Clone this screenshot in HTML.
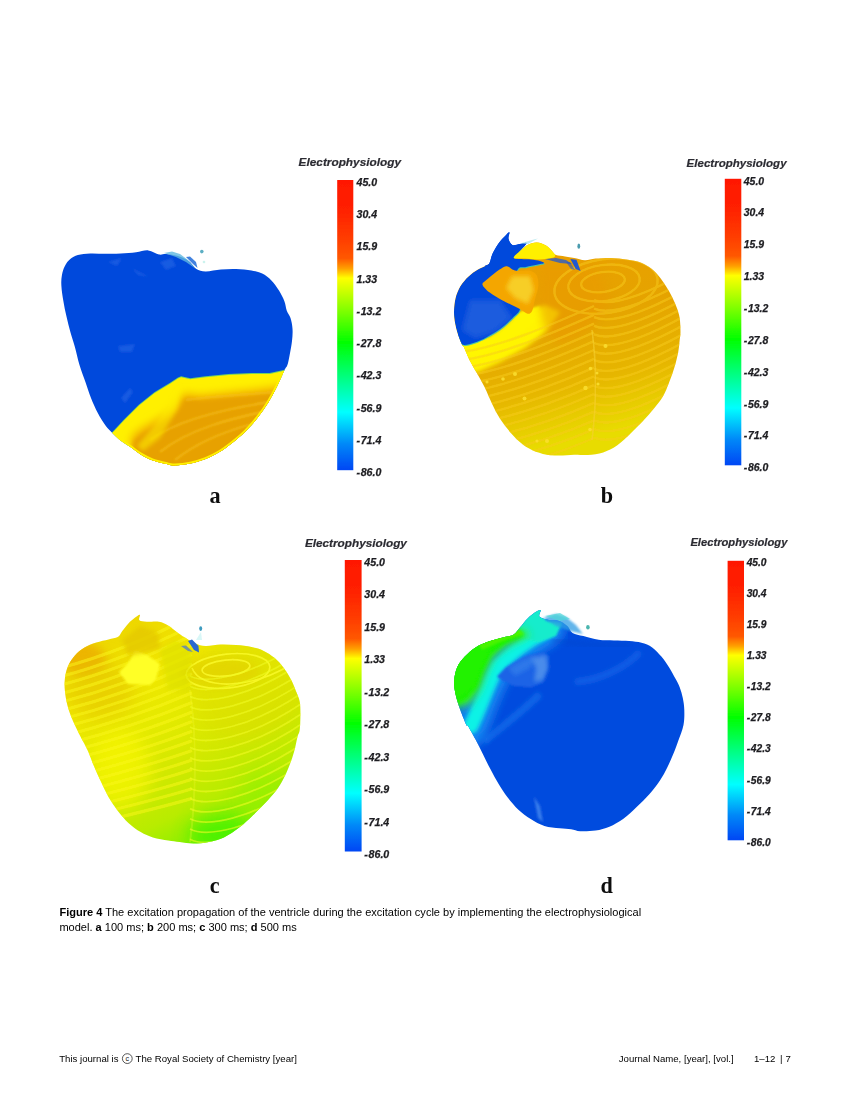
<!DOCTYPE html>
<html><head><meta charset="utf-8">
<style>
html,body{margin:0;padding:0;background:#fff;}
body{width:850px;height:1100px;position:relative;overflow:hidden;font-family:"Liberation Sans",sans-serif;color:#000;}
#fig{position:absolute;left:0;top:0;}
.cap{position:absolute;left:59.4px;top:905px;font-size:11.04px;line-height:15px;white-space:nowrap;opacity:0.999;}
.ft{position:absolute;top:1053px;font-size:9.62px;line-height:11px;white-space:nowrap;opacity:0.999;}
</style></head><body>
<svg id="fig" width="850" height="1100" viewBox="0 0 850 1100">
<defs>
<filter id="bl" x="-5%" y="-5%" width="110%" height="110%"><feGaussianBlur stdDeviation="0.7"/></filter>
<filter id="bt" x="-5%" y="-30%" width="110%" height="160%"><feGaussianBlur stdDeviation="0.55"/></filter>
<filter id="btt" x="-5%" y="-30%" width="110%" height="160%"><feGaussianBlur stdDeviation="0.65"/></filter>
<filter id="btl" x="-30%" y="-30%" width="160%" height="160%"><feGaussianBlur stdDeviation="0.75"/></filter>
<filter id="b1" x="-10%" y="-10%" width="120%" height="120%"><feGaussianBlur stdDeviation="1.2"/></filter>
<filter id="b2" x="-15%" y="-15%" width="130%" height="130%"><feGaussianBlur stdDeviation="2.2"/></filter>
<filter id="b4" x="-25%" y="-25%" width="150%" height="150%"><feGaussianBlur stdDeviation="4.5"/></filter>
<filter id="b8" x="-40%" y="-40%" width="180%" height="180%"><feGaussianBlur stdDeviation="9"/></filter>
<linearGradient id="cb" x1="0" y1="0" x2="0" y2="1">
<stop offset="0" stop-color="#ff1800"/>
<stop offset="0.10" stop-color="#ff2000"/>
<stop offset="0.20" stop-color="#ff3c00"/>
<stop offset="0.27" stop-color="#ff5800"/>
<stop offset="0.305" stop-color="#ffa000"/>
<stop offset="0.338" stop-color="#ffff00"/>
<stop offset="0.45" stop-color="#80ff00"/>
<stop offset="0.56" stop-color="#00ff00"/>
<stop offset="0.68" stop-color="#00ff80"/>
<stop offset="0.80" stop-color="#00ffff"/>
<stop offset="0.91" stop-color="#0088f8"/>
<stop offset="1" stop-color="#0046f4"/>
</linearGradient>
</defs>
<rect x="337.2" y="180.0" width="16.1" height="290.2" fill="url(#cb)" filter="url(#bl)"/>
<g font-family="Liberation Sans, sans-serif" font-weight="bold" font-style="italic" font-size="10.60" fill="#1c1c20" stroke="#1c1c20" stroke-width="0.25" filter="url(#bt)">
<text x="356.5" y="185.6">45.0</text>
<text x="356.5" y="217.9">30.4</text>
<text x="356.5" y="250.2">15.9</text>
<text x="356.5" y="282.5">1.33</text>
<text x="356.5" y="314.8">-<tspan dx="0.7">13.2</tspan></text>
<text x="356.5" y="347.1">-<tspan dx="0.7">27.8</tspan></text>
<text x="356.5" y="379.4">-<tspan dx="0.7">42.3</tspan></text>
<text x="356.5" y="411.7">-<tspan dx="0.7">56.9</tspan></text>
<text x="356.5" y="444.0">-<tspan dx="0.7">71.4</tspan></text>
<text x="356.5" y="476.3">-<tspan dx="0.7">86.0</tspan></text>
</g>
<text x="298.6" y="166.2" font-family="Liberation Sans, sans-serif" font-weight="bold" font-style="italic" font-size="11.82" fill="#2c2c32" stroke="#2c2c32" stroke-width="0.2" filter="url(#btt)">Electrophysiology</text>
<rect x="724.8" y="178.8" width="16.5" height="286.5" fill="url(#cb)" filter="url(#bl)"/>
<g font-family="Liberation Sans, sans-serif" font-weight="bold" font-style="italic" font-size="10.46" fill="#1c1c20" stroke="#1c1c20" stroke-width="0.25" filter="url(#bt)">
<text x="743.8" y="184.5">45.0</text>
<text x="743.8" y="216.3">30.4</text>
<text x="743.8" y="248.2">15.9</text>
<text x="743.8" y="280.1">1.33</text>
<text x="743.8" y="312.0">-<tspan dx="0.7">13.2</tspan></text>
<text x="743.8" y="343.8">-<tspan dx="0.7">27.8</tspan></text>
<text x="743.8" y="375.7">-<tspan dx="0.7">42.3</tspan></text>
<text x="743.8" y="407.6">-<tspan dx="0.7">56.9</tspan></text>
<text x="743.8" y="439.4">-<tspan dx="0.7">71.4</tspan></text>
<text x="743.8" y="471.3">-<tspan dx="0.7">86.0</tspan></text>
</g>
<text x="686.6" y="167.0" font-family="Liberation Sans, sans-serif" font-weight="bold" font-style="italic" font-size="11.54" fill="#2c2c32" stroke="#2c2c32" stroke-width="0.2" filter="url(#btt)">Electrophysiology</text>
<rect x="344.8" y="560.0" width="16.8" height="291.5" fill="url(#cb)" filter="url(#bl)"/>
<g font-family="Liberation Sans, sans-serif" font-weight="bold" font-style="italic" font-size="10.65" fill="#1c1c20" stroke="#1c1c20" stroke-width="0.25" filter="url(#bt)">
<text x="364.3" y="565.6">45.0</text>
<text x="364.3" y="598.1">30.4</text>
<text x="364.3" y="630.6">15.9</text>
<text x="364.3" y="663.1">1.33</text>
<text x="364.3" y="695.6">-<tspan dx="0.7">13.2</tspan></text>
<text x="364.3" y="728.1">-<tspan dx="0.7">27.8</tspan></text>
<text x="364.3" y="760.6">-<tspan dx="0.7">42.3</tspan></text>
<text x="364.3" y="793.2">-<tspan dx="0.7">56.9</tspan></text>
<text x="364.3" y="825.7">-<tspan dx="0.7">71.4</tspan></text>
<text x="364.3" y="858.2">-<tspan dx="0.7">86.0</tspan></text>
</g>
<text x="304.9" y="547.0" font-family="Liberation Sans, sans-serif" font-weight="bold" font-style="italic" font-size="11.77" fill="#2c2c32" stroke="#2c2c32" stroke-width="0.2" filter="url(#btt)">Electrophysiology</text>
<rect x="727.6" y="560.8" width="16.4" height="279.5" fill="url(#cb)" filter="url(#bl)"/>
<g font-family="Liberation Sans, sans-serif" font-weight="bold" font-style="italic" font-size="10.21" fill="#1c1c20" stroke="#1c1c20" stroke-width="0.25" filter="url(#bt)">
<text x="746.7" y="565.9">45.0</text>
<text x="746.7" y="597.0">30.4</text>
<text x="746.7" y="628.1">15.9</text>
<text x="746.7" y="659.2">1.33</text>
<text x="746.7" y="690.3">-<tspan dx="0.7">13.2</tspan></text>
<text x="746.7" y="721.3">-<tspan dx="0.7">27.8</tspan></text>
<text x="746.7" y="752.4">-<tspan dx="0.7">42.3</tspan></text>
<text x="746.7" y="783.5">-<tspan dx="0.7">56.9</tspan></text>
<text x="746.7" y="814.6">-<tspan dx="0.7">71.4</tspan></text>
<text x="746.7" y="845.7">-<tspan dx="0.7">86.0</tspan></text>
</g>
<text x="690.4" y="546.2" font-family="Liberation Sans, sans-serif" font-weight="bold" font-style="italic" font-size="11.20" fill="#2c2c32" stroke="#2c2c32" stroke-width="0.2" filter="url(#btt)">Electrophysiology</text>
<g font-family="Liberation Serif, serif" font-weight="bold" font-size="22.2" fill="#111" filter="url(#btl)" text-anchor="middle">
<text x="215" y="503.4">a</text>
<text x="606.8" y="503.4">b</text>
<text x="214.6" y="892.8">c</text>
<text x="606.6" y="892.8">d</text>
</g>
<!-- HEART A -->
<clipPath id="ca"><path d="M79.5,365.0 C77.7,359.1 76.4,352.5 74.9,347.0 C73.4,341.5 71.7,336.9 70.3,331.8 C68.9,326.7 67.7,321.6 66.5,316.5 C65.3,311.4 64.2,306.3 63.4,301.2 C62.5,296.1 61.6,290.2 61.4,285.9 C61.1,281.6 61.3,278.5 61.9,275.2 C62.5,271.9 63.5,268.7 64.9,266.0 C66.3,263.3 68.1,260.9 70.3,259.1 C72.5,257.3 74.6,255.9 77.9,255.0 C81.2,254.1 85.6,253.7 90.2,253.5 C94.8,253.3 100.4,253.8 105.5,253.8 C110.6,253.8 115.7,253.9 120.8,253.6 C125.9,253.3 131.5,252.7 136.1,252.2 C140.7,251.7 144.5,250.0 148.3,250.4 C152.1,250.8 156.1,253.9 159.0,254.5 C161.9,255.1 163.2,253.8 166.0,254.0 C168.8,254.2 172.8,254.9 175.8,255.6 C178.8,256.3 181.8,257.3 184.2,258.4 C186.6,259.5 188.0,260.2 190.0,262.0 C192.0,263.8 193.8,267.4 196.4,269.0 C199.0,270.6 201.5,271.3 205.6,271.4 C209.7,271.5 215.8,269.9 220.9,269.5 C226.0,269.1 231.1,268.8 236.2,269.0 C241.3,269.2 247.2,269.8 251.5,270.6 C255.8,271.4 258.9,272.0 262.2,273.6 C265.5,275.2 268.6,277.7 271.4,280.5 C274.2,283.3 276.8,287.1 279.0,290.5 C281.2,293.9 283.1,297.9 284.4,301.2 C285.7,304.5 285.7,307.6 286.7,310.4 C287.7,313.2 289.5,314.9 290.5,318.0 C291.5,321.1 292.2,324.9 292.5,328.7 C292.8,332.5 292.5,336.7 292.0,341.0 C291.5,345.3 290.5,350.7 289.7,354.7 C288.9,358.7 288.3,362.4 287.4,365.0 C286.5,367.6 286.0,366.9 284.4,370.3 C282.8,373.7 280.2,380.2 277.5,385.6 C274.8,391.0 271.6,397.0 268.3,402.4 C265.0,407.8 261.4,412.8 257.6,417.7 C253.8,422.6 249.5,427.4 245.4,431.5 C241.3,435.6 237.4,438.8 233.1,442.2 C228.8,445.6 224.0,449.3 219.4,452.1 C214.8,454.9 210.4,457.1 205.6,459.0 C200.8,460.9 195.4,462.5 190.3,463.6 C185.2,464.7 178.7,465.3 175.0,465.4 C171.3,465.5 171.9,465.2 168.2,464.4 C164.5,463.6 157.5,462.2 152.9,460.5 C148.3,458.8 144.5,456.7 140.7,454.4 C136.9,452.1 133.3,449.1 130.0,446.8 C126.7,444.5 123.7,443.0 120.8,440.7 C117.9,438.4 115.0,435.6 112.4,433.0 C109.9,430.4 107.9,428.7 105.5,425.4 C103.1,422.1 100.2,417.7 97.8,413.1 C95.4,408.5 92.9,402.9 90.9,397.8 C88.9,392.7 87.5,388.0 85.6,382.5 C83.7,377.0 81.3,370.9 79.5,365.0Z"/></clipPath>
<clipPath id="cay"><path d="M108.0,437.0 L112.4,433.0 L123.8,420.8 L139.1,405.5 L154.4,393.2 L169.7,384.0 L178.0,378.6 L181.1,377.2 L190.3,379.3 L205.6,377.2 L228.5,374.9 L251.5,374.1 L269.8,374.1 L283.6,371.0 L300.0,366.0 L300.0,480.0 L100.0,480.0Z"/></clipPath>
<g filter="url(#bl)">
<path d="M79.5,365.0 C77.7,359.1 76.4,352.5 74.9,347.0 C73.4,341.5 71.7,336.9 70.3,331.8 C68.9,326.7 67.7,321.6 66.5,316.5 C65.3,311.4 64.2,306.3 63.4,301.2 C62.5,296.1 61.6,290.2 61.4,285.9 C61.1,281.6 61.3,278.5 61.9,275.2 C62.5,271.9 63.5,268.7 64.9,266.0 C66.3,263.3 68.1,260.9 70.3,259.1 C72.5,257.3 74.6,255.9 77.9,255.0 C81.2,254.1 85.6,253.7 90.2,253.5 C94.8,253.3 100.4,253.8 105.5,253.8 C110.6,253.8 115.7,253.9 120.8,253.6 C125.9,253.3 131.5,252.7 136.1,252.2 C140.7,251.7 144.5,250.0 148.3,250.4 C152.1,250.8 156.1,253.9 159.0,254.5 C161.9,255.1 163.2,253.8 166.0,254.0 C168.8,254.2 172.8,254.9 175.8,255.6 C178.8,256.3 181.8,257.3 184.2,258.4 C186.6,259.5 188.0,260.2 190.0,262.0 C192.0,263.8 193.8,267.4 196.4,269.0 C199.0,270.6 201.5,271.3 205.6,271.4 C209.7,271.5 215.8,269.9 220.9,269.5 C226.0,269.1 231.1,268.8 236.2,269.0 C241.3,269.2 247.2,269.8 251.5,270.6 C255.8,271.4 258.9,272.0 262.2,273.6 C265.5,275.2 268.6,277.7 271.4,280.5 C274.2,283.3 276.8,287.1 279.0,290.5 C281.2,293.9 283.1,297.9 284.4,301.2 C285.7,304.5 285.7,307.6 286.7,310.4 C287.7,313.2 289.5,314.9 290.5,318.0 C291.5,321.1 292.2,324.9 292.5,328.7 C292.8,332.5 292.5,336.7 292.0,341.0 C291.5,345.3 290.5,350.7 289.7,354.7 C288.9,358.7 288.3,362.4 287.4,365.0 C286.5,367.6 286.0,366.9 284.4,370.3 C282.8,373.7 280.2,380.2 277.5,385.6 C274.8,391.0 271.6,397.0 268.3,402.4 C265.0,407.8 261.4,412.8 257.6,417.7 C253.8,422.6 249.5,427.4 245.4,431.5 C241.3,435.6 237.4,438.8 233.1,442.2 C228.8,445.6 224.0,449.3 219.4,452.1 C214.8,454.9 210.4,457.1 205.6,459.0 C200.8,460.9 195.4,462.5 190.3,463.6 C185.2,464.7 178.7,465.3 175.0,465.4 C171.3,465.5 171.9,465.2 168.2,464.4 C164.5,463.6 157.5,462.2 152.9,460.5 C148.3,458.8 144.5,456.7 140.7,454.4 C136.9,452.1 133.3,449.1 130.0,446.8 C126.7,444.5 123.7,443.0 120.8,440.7 C117.9,438.4 115.0,435.6 112.4,433.0 C109.9,430.4 107.9,428.7 105.5,425.4 C103.1,422.1 100.2,417.7 97.8,413.1 C95.4,408.5 92.9,402.9 90.9,397.8 C88.9,392.7 87.5,388.0 85.6,382.5 C83.7,377.0 81.3,370.9 79.5,365.0Z" fill="#0349dc"/>
<g clip-path="url(#ca)">
 <path d="M108.0,437.0 L112.4,433.0 L123.8,420.8 L139.1,405.5 L154.4,393.2 L169.7,384.0 L178.0,378.6 L181.1,377.2 L190.3,379.3 L205.6,377.2 L228.5,374.9 L251.5,374.1 L269.8,374.1 L283.6,371.0 L300.0,366.0 L300.0,480.0 L100.0,480.0Z" fill="#6fd060" filter="url(#bl)" transform="translate(0,-1)"/>
 <path d="M108.0,437.0 L112.4,433.0 L123.8,420.8 L139.1,405.5 L154.4,393.2 L169.7,384.0 L178.0,378.6 L181.1,377.2 L190.3,379.3 L205.6,377.2 L228.5,374.9 L251.5,374.1 L269.8,374.1 L283.6,371.0 L300.0,366.0 L300.0,480.0 L100.0,480.0Z" fill="#fff000" filter="url(#bl)"/>
 <path d="M131.0,447.0 L131.5,436.0 L140.7,428.4 L154.4,420.8 L168.2,413.0 L177.4,404.0 L181.0,397.0 L184.0,393.0 L200.0,395.0 L220.0,393.0 L245.0,390.5 L268.0,388.0 L285.0,385.0 L290.0,480.0 L140.0,480.0Z" fill="#f2b000" filter="url(#b4)"/>
 <path d="M131.0,447.0 L131.5,436.0 L140.7,428.4 L154.4,420.8 L168.2,413.0 L177.4,404.0 L181.0,397.0 L184.0,393.0 L200.0,395.0 L220.0,393.0 L245.0,390.5 L268.0,388.0 L285.0,385.0 L290.0,480.0 L140.0,480.0Z" fill="#e7a100" filter="url(#b2)" transform="translate(2,5)"/>
 <g fill="none" stroke="#f8c418" stroke-width="1.8" filter="url(#b1)" opacity="0.75">
  <path d="M150,440 C180,418 230,408 270,402"/>
  <path d="M160,452 C190,428 235,418 262,412"/>
  <path d="M175,460 C200,440 230,430 252,424"/>
  <path d="M186,400 C215,396 250,394 280,392"/>
 </g>
 <path d="M181,381 L172,400 L152,428 L137,446 L143,451 L160,438 L177,410 Z" fill="#fff400" opacity="0.5" filter="url(#b2)"/>
 <g clip-path="url(#cay)"><path d="M79.5,365.0 C77.7,359.1 76.4,352.5 74.9,347.0 C73.4,341.5 71.7,336.9 70.3,331.8 C68.9,326.7 67.7,321.6 66.5,316.5 C65.3,311.4 64.2,306.3 63.4,301.2 C62.5,296.1 61.6,290.2 61.4,285.9 C61.1,281.6 61.3,278.5 61.9,275.2 C62.5,271.9 63.5,268.7 64.9,266.0 C66.3,263.3 68.1,260.9 70.3,259.1 C72.5,257.3 74.6,255.9 77.9,255.0 C81.2,254.1 85.6,253.7 90.2,253.5 C94.8,253.3 100.4,253.8 105.5,253.8 C110.6,253.8 115.7,253.9 120.8,253.6 C125.9,253.3 131.5,252.7 136.1,252.2 C140.7,251.7 144.5,250.0 148.3,250.4 C152.1,250.8 156.1,253.9 159.0,254.5 C161.9,255.1 163.2,253.8 166.0,254.0 C168.8,254.2 172.8,254.9 175.8,255.6 C178.8,256.3 181.8,257.3 184.2,258.4 C186.6,259.5 188.0,260.2 190.0,262.0 C192.0,263.8 193.8,267.4 196.4,269.0 C199.0,270.6 201.5,271.3 205.6,271.4 C209.7,271.5 215.8,269.9 220.9,269.5 C226.0,269.1 231.1,268.8 236.2,269.0 C241.3,269.2 247.2,269.8 251.5,270.6 C255.8,271.4 258.9,272.0 262.2,273.6 C265.5,275.2 268.6,277.7 271.4,280.5 C274.2,283.3 276.8,287.1 279.0,290.5 C281.2,293.9 283.1,297.9 284.4,301.2 C285.7,304.5 285.7,307.6 286.7,310.4 C287.7,313.2 289.5,314.9 290.5,318.0 C291.5,321.1 292.2,324.9 292.5,328.7 C292.8,332.5 292.5,336.7 292.0,341.0 C291.5,345.3 290.5,350.7 289.7,354.7 C288.9,358.7 288.3,362.4 287.4,365.0 C286.5,367.6 286.0,366.9 284.4,370.3 C282.8,373.7 280.2,380.2 277.5,385.6 C274.8,391.0 271.6,397.0 268.3,402.4 C265.0,407.8 261.4,412.8 257.6,417.7 C253.8,422.6 249.5,427.4 245.4,431.5 C241.3,435.6 237.4,438.8 233.1,442.2 C228.8,445.6 224.0,449.3 219.4,452.1 C214.8,454.9 210.4,457.1 205.6,459.0 C200.8,460.9 195.4,462.5 190.3,463.6 C185.2,464.7 178.7,465.3 175.0,465.4 C171.3,465.5 171.9,465.2 168.2,464.4 C164.5,463.6 157.5,462.2 152.9,460.5 C148.3,458.8 144.5,456.7 140.7,454.4 C136.9,452.1 133.3,449.1 130.0,446.8 C126.7,444.5 123.7,443.0 120.8,440.7 C117.9,438.4 115.0,435.6 112.4,433.0 C109.9,430.4 107.9,428.7 105.5,425.4 C103.1,422.1 100.2,417.7 97.8,413.1 C95.4,408.5 92.9,402.9 90.9,397.8 C88.9,392.7 87.5,388.0 85.6,382.5 C83.7,377.0 81.3,370.9 79.5,365.0Z" fill="none" stroke="#fff200" stroke-width="3.6" filter="url(#bl)"/></g>
 <!-- subtle lighter patches in blue -->
 <g fill="#2a6ae6" opacity="0.55" filter="url(#b1)">
  <path d="M108,262 L122,258 L117,266 Z"/><path d="M132,268 L141,273 L150,277 L138,275 Z"/>
  <path d="M160,262 L172,258 L176,266 L166,270 Z"/>
  <path d="M118,346 L135,344 L132,352 L120,352 Z"/>
  <path d="M121,398 L130,388 L133,392 L125,403 Z"/>
 </g>
</g>
<!-- dust -->
<g filter="url(#bl)">
 <path d="M164,253 L172,251.5 L180,254 L188,260 L196,269 L186,262 L176,257 Z" fill="#5fb8e0" opacity="0.8"/>
 <path d="M186,257 L190,256.5 L196,262 L197.5,268 L193,264 Z" fill="#2f74dc" opacity="0.9"/>
 <circle cx="201.8" cy="251.6" r="1.8" fill="#3fa0b8" opacity="0.85"/>
 <circle cx="204" cy="262" r="1.3" fill="#bff0ea" opacity="0.8"/>
</g>
</g>
<!-- HEART B -->
<clipPath id="cbb"><path d="M461.8,344.3 C460.6,341.7 458.5,336.7 457.2,332.1 C455.9,327.5 454.6,321.9 454.2,316.8 C453.8,311.7 454.1,306.1 454.9,301.5 C455.7,296.9 456.9,293.0 458.8,289.2 C460.7,285.4 463.6,281.6 466.4,278.5 C469.2,275.4 472.5,272.9 475.6,270.9 C478.7,268.9 482.1,267.7 484.8,266.3 C487.5,264.9 489.5,263.9 492.0,262.5 C494.5,261.1 496.4,259.1 500.0,258.0 C503.6,256.9 510.5,257.2 513.8,256.0 C517.1,254.8 517.7,252.8 520.0,251.0 C522.3,249.2 524.8,246.3 527.6,244.9 C530.4,243.5 533.7,242.5 536.8,242.6 C539.9,242.7 543.5,244.2 546.0,245.6 C548.5,247.0 550.3,249.4 552.0,251.0 C553.7,252.6 553.8,254.1 556.0,255.0 C558.2,255.9 562.0,255.9 565.0,256.4 C568.0,256.9 570.9,257.3 574.2,257.9 C577.5,258.5 581.3,260.1 584.9,260.2 C588.5,260.3 591.3,259.0 595.6,258.6 C599.9,258.2 605.8,257.8 610.9,257.9 C616.0,258.0 621.6,258.8 626.2,259.4 C630.8,260.0 634.6,260.4 638.4,261.7 C642.2,263.0 645.8,264.8 649.1,267.1 C652.4,269.4 655.5,272.3 658.3,275.5 C661.1,278.7 663.7,282.6 666.0,286.2 C668.3,289.8 670.3,293.3 672.1,296.9 C673.9,300.5 675.4,304.0 676.7,307.6 C678.0,311.2 679.1,314.2 679.7,318.3 C680.3,322.4 680.5,328.5 680.5,332.1 C680.5,335.7 680.1,336.6 679.7,340.0 C679.3,343.4 679.1,347.6 678.2,352.2 C677.3,356.8 675.9,362.4 674.4,367.5 C672.9,372.6 670.9,377.9 669.0,382.8 C667.1,387.7 665.4,392.3 662.9,396.6 C660.4,400.9 657.0,404.7 653.7,408.8 C650.4,412.9 646.8,417.0 643.0,421.1 C639.2,425.2 635.1,429.2 630.8,433.3 C626.5,437.4 621.6,442.3 617.0,445.5 C612.4,448.7 608.1,450.8 603.2,452.4 C598.4,454.0 592.7,454.6 587.9,455.0 C583.1,455.4 579.2,454.6 574.2,454.7 C569.2,454.8 563.4,455.6 558.2,455.5 C553.0,455.4 547.8,455.0 542.9,453.9 C538.0,452.8 533.4,451.0 529.1,448.6 C524.8,446.2 520.7,443.0 516.9,439.4 C513.1,435.8 509.4,431.3 506.2,427.2 C503.0,423.1 500.4,419.2 497.8,414.9 C495.2,410.6 493.1,405.8 490.9,401.2 C488.7,396.6 487.1,392.0 484.8,387.4 C482.5,382.8 479.7,378.2 477.1,373.6 C474.6,369.0 471.7,364.2 469.5,359.9 C467.3,355.6 465.4,350.2 464.1,347.6 C462.8,345.0 463.0,346.9 461.8,344.3Z"/></clipPath>
<linearGradient id="gb" x1="0" y1="0" x2="0.25" y2="1">
<stop offset="0" stop-color="#ec9f00"/><stop offset="0.45" stop-color="#e5a300"/><stop offset="0.75" stop-color="#e6b600"/><stop offset="1" stop-color="#e8dc00"/>
</linearGradient>
<g filter="url(#bl)">
<path d="M484.8,266.3 C484.7,265.5 488.1,265.2 489.4,263.2 C490.7,261.2 490.9,257.4 492.4,254.1 C493.9,250.8 496.3,246.5 498.5,243.4 C500.7,240.3 503.6,237.5 505.4,235.7 C507.2,233.9 508.9,231.9 509.4,232.4 C509.9,232.9 508.0,236.7 508.5,238.8 C509.0,240.9 510.4,244.0 512.3,244.9 C514.2,245.8 517.5,244.4 519.9,244.1 C522.3,243.8 526.5,242.0 526.5,243.2 C526.5,244.3 522.0,248.6 519.9,251.0 C517.8,253.4 517.1,256.1 513.8,257.9 C510.5,259.7 504.0,260.3 500.0,262.0 C496.0,263.7 492.5,267.3 490.0,268.0 C487.5,268.7 484.9,267.1 484.8,266.3Z" fill="#0349dc"/>
<path d="M461.8,344.3 C460.6,341.7 458.5,336.7 457.2,332.1 C455.9,327.5 454.6,321.9 454.2,316.8 C453.8,311.7 454.1,306.1 454.9,301.5 C455.7,296.9 456.9,293.0 458.8,289.2 C460.7,285.4 463.6,281.6 466.4,278.5 C469.2,275.4 472.5,272.9 475.6,270.9 C478.7,268.9 482.1,267.7 484.8,266.3 C487.5,264.9 489.5,263.9 492.0,262.5 C494.5,261.1 496.4,259.1 500.0,258.0 C503.6,256.9 510.5,257.2 513.8,256.0 C517.1,254.8 517.7,252.8 520.0,251.0 C522.3,249.2 524.8,246.3 527.6,244.9 C530.4,243.5 533.7,242.5 536.8,242.6 C539.9,242.7 543.5,244.2 546.0,245.6 C548.5,247.0 550.3,249.4 552.0,251.0 C553.7,252.6 553.8,254.1 556.0,255.0 C558.2,255.9 562.0,255.9 565.0,256.4 C568.0,256.9 570.9,257.3 574.2,257.9 C577.5,258.5 581.3,260.1 584.9,260.2 C588.5,260.3 591.3,259.0 595.6,258.6 C599.9,258.2 605.8,257.8 610.9,257.9 C616.0,258.0 621.6,258.8 626.2,259.4 C630.8,260.0 634.6,260.4 638.4,261.7 C642.2,263.0 645.8,264.8 649.1,267.1 C652.4,269.4 655.5,272.3 658.3,275.5 C661.1,278.7 663.7,282.6 666.0,286.2 C668.3,289.8 670.3,293.3 672.1,296.9 C673.9,300.5 675.4,304.0 676.7,307.6 C678.0,311.2 679.1,314.2 679.7,318.3 C680.3,322.4 680.5,328.5 680.5,332.1 C680.5,335.7 680.1,336.6 679.7,340.0 C679.3,343.4 679.1,347.6 678.2,352.2 C677.3,356.8 675.9,362.4 674.4,367.5 C672.9,372.6 670.9,377.9 669.0,382.8 C667.1,387.7 665.4,392.3 662.9,396.6 C660.4,400.9 657.0,404.7 653.7,408.8 C650.4,412.9 646.8,417.0 643.0,421.1 C639.2,425.2 635.1,429.2 630.8,433.3 C626.5,437.4 621.6,442.3 617.0,445.5 C612.4,448.7 608.1,450.8 603.2,452.4 C598.4,454.0 592.7,454.6 587.9,455.0 C583.1,455.4 579.2,454.6 574.2,454.7 C569.2,454.8 563.4,455.6 558.2,455.5 C553.0,455.4 547.8,455.0 542.9,453.9 C538.0,452.8 533.4,451.0 529.1,448.6 C524.8,446.2 520.7,443.0 516.9,439.4 C513.1,435.8 509.4,431.3 506.2,427.2 C503.0,423.1 500.4,419.2 497.8,414.9 C495.2,410.6 493.1,405.8 490.9,401.2 C488.7,396.6 487.1,392.0 484.8,387.4 C482.5,382.8 479.7,378.2 477.1,373.6 C474.6,369.0 471.7,364.2 469.5,359.9 C467.3,355.6 465.4,350.2 464.1,347.6 C462.8,345.0 463.0,346.9 461.8,344.3Z" fill="url(#gb)"/>
<g clip-path="url(#cbb)">
 <!-- yellow band under blue -->
 <path d="M455,345 L470,344 L490,338 L505,328 L520,314 L545,305 L560,312 L548,330 L525,348 L500,362 L478,372 L462,372 Z" fill="#fff400" filter="url(#b2)"/>
 <path d="M456,338 L470,343 L490,337 L505,326 L520,312 L540,306 L540,318 L520,334 L500,346 L478,356 L460,356 Z" fill="#fff600" filter="url(#b1)"/>
 <!-- darker orange near top center -->
 <path d="M540,262 L575,262 L600,272 L610,300 L590,330 L560,345 L545,330 L538,300 Z" fill="#ea9a00" opacity="0.55" filter="url(#b4)"/>
 <g fill="none" stroke="#f8cc1c" stroke-width="2.4" opacity="0.5" filter="url(#bl)">
 <path d="M462,352.0 C502,346.0 544,328.0 594,306.0"/>
<path d="M462,360.2 C502,354.2 544,336.8 594,314.8"/>
<path d="M462,368.4 C502,362.4 544,345.6 594,323.6"/>
<path d="M462,376.6 C502,370.6 544,354.4 594,332.4"/>
<path d="M462,384.8 C502,378.8 544,363.2 594,341.2"/>
<path d="M462,393.0 C502,387.0 544,372.0 594,350.0"/>
<path d="M462,401.2 C502,395.2 544,380.8 594,358.8"/>
<path d="M462,409.4 C502,403.4 544,389.6 594,367.6"/>
<path d="M462,417.6 C502,411.6 544,398.4 594,376.4"/>
<path d="M462,425.8 C502,419.8 544,407.2 594,385.2"/>
<path d="M462,434.0 C502,428.0 544,416.0 594,394.0"/>
<path d="M462,442.2 C502,436.2 544,424.8 594,402.8"/>
<path d="M462,450.4 C502,444.4 544,433.6 594,411.6"/>
<path d="M462,458.6 C502,452.6 544,442.4 594,420.4"/>
<path d="M462,466.8 C502,460.8 544,451.2 594,429.2"/>
<path d="M462,475.0 C502,469.0 544,460.0 594,438.0"/>
<path d="M594,300.0 C610,307.0 640,298.0 690,270.0"/>
<path d="M594,308.6 C610,315.6 640,306.6 690,278.6"/>
<path d="M594,317.2 C610,324.2 640,315.2 690,287.2"/>
<path d="M594,325.8 C610,332.8 640,323.8 690,295.8"/>
<path d="M594,334.4 C610,341.4 640,332.4 690,304.4"/>
<path d="M594,343.0 C610,350.0 640,341.0 690,313.0"/>
<path d="M594,351.6 C610,358.6 640,349.6 690,321.6"/>
<path d="M594,360.2 C610,367.2 640,358.2 690,330.2"/>
<path d="M594,368.8 C610,375.8 640,366.8 690,338.8"/>
<path d="M594,377.4 C610,384.4 640,375.4 690,347.4"/>
<path d="M594,386.0 C610,393.0 640,384.0 690,356.0"/>
<path d="M594,394.6 C610,401.6 640,392.6 690,364.6"/>
<path d="M594,403.2 C610,410.2 640,401.2 690,373.2"/>
<path d="M594,411.8 C610,418.8 640,409.8 690,381.8"/>
<path d="M594,420.4 C610,427.4 640,418.4 690,390.4"/>
<path d="M594,429.0 C610,436.0 640,427.0 690,399.0"/>
<path d="M594,437.6 C610,444.6 640,435.6 690,407.6"/>
 <ellipse cx="603" cy="282" rx="22" ry="10" transform="rotate(-8 603 282)"/>
 <ellipse cx="604" cy="283" rx="36" ry="18" transform="rotate(-8 604 283)"/>
 <ellipse cx="606" cy="286" rx="52" ry="27" transform="rotate(-8 606 286)"/>
 </g>
 <path d="M592,330 C596,360 597,400 592,440" fill="none" stroke="#f6d030" stroke-width="1.6" opacity="0.6" filter="url(#bl)"/>
 <g fill="#fbe030" opacity="0.85" filter="url(#bl)">
  <circle cx="605.5" cy="346" r="2"/><circle cx="590.5" cy="368.5" r="1.8"/><circle cx="597" cy="373" r="1.5"/><circle cx="585.5" cy="388" r="2.2"/><circle cx="598" cy="384" r="1.6"/>
  <circle cx="590" cy="429.5" r="1.8"/><circle cx="524.5" cy="398.5" r="2"/><circle cx="503" cy="379" r="1.8"/><circle cx="515" cy="374" r="2"/><circle cx="547" cy="441" r="2"/><circle cx="537" cy="441" r="1.6"/>
  <circle cx="487" cy="382" r="1.6"/>
 </g>
 <path d="M461.8,344.3 C459.0,342.5 458.5,336.7 457.2,332.1 C455.9,327.5 454.6,321.9 454.2,316.8 C453.8,311.7 454.1,306.1 454.9,301.5 C455.7,296.9 456.9,293.0 458.8,289.2 C460.7,285.4 463.6,281.6 466.4,278.5 C469.2,275.4 472.5,272.9 475.6,270.9 C478.7,268.9 482.5,267.6 484.8,266.3 C487.1,265.0 488.1,265.2 489.4,263.2 C490.7,261.2 490.9,257.4 492.4,254.1 C493.9,250.8 496.3,246.5 498.5,243.4 C500.7,240.3 503.6,237.5 505.4,235.7 C507.2,233.9 508.9,231.9 509.4,232.4 C509.9,232.9 508.0,236.7 508.5,238.8 C509.0,240.9 510.4,244.0 512.3,244.9 C514.2,245.8 517.5,244.4 519.9,244.1 C522.3,243.8 526.5,242.0 526.5,243.2 C526.5,244.3 522.0,248.6 519.9,251.0 C517.8,253.4 512.0,256.5 513.8,257.9 C515.6,259.3 526.4,258.9 530.7,259.4 C535.0,259.9 537.6,260.3 539.8,260.9 C542.0,261.5 544.5,262.4 544.0,263.0 C543.5,263.6 539.8,264.1 536.8,264.8 C533.8,265.5 529.4,266.1 526.1,267.1 C522.8,268.1 519.2,265.4 516.9,270.9 C514.6,276.4 511.8,293.6 512.3,300.0 C512.8,306.4 519.9,306.1 519.9,309.1 C519.9,312.2 515.6,315.0 512.3,318.3 C509.0,321.6 504.4,325.8 500.1,329.0 C495.8,332.2 490.6,335.1 486.3,337.4 C482.0,339.7 478.2,341.6 474.1,342.8 C470.0,344.0 464.6,346.1 461.8,344.3Z" fill="#49c8a0" filter="url(#bl)" transform="translate(0.6,0.9)"/>
 <path d="M461.8,344.3 C459.0,342.5 458.5,336.7 457.2,332.1 C455.9,327.5 454.6,321.9 454.2,316.8 C453.8,311.7 454.1,306.1 454.9,301.5 C455.7,296.9 456.9,293.0 458.8,289.2 C460.7,285.4 463.6,281.6 466.4,278.5 C469.2,275.4 472.5,272.9 475.6,270.9 C478.7,268.9 482.5,267.6 484.8,266.3 C487.1,265.0 488.1,265.2 489.4,263.2 C490.7,261.2 490.9,257.4 492.4,254.1 C493.9,250.8 496.3,246.5 498.5,243.4 C500.7,240.3 503.6,237.5 505.4,235.7 C507.2,233.9 508.9,231.9 509.4,232.4 C509.9,232.9 508.0,236.7 508.5,238.8 C509.0,240.9 510.4,244.0 512.3,244.9 C514.2,245.8 517.5,244.4 519.9,244.1 C522.3,243.8 526.5,242.0 526.5,243.2 C526.5,244.3 522.0,248.6 519.9,251.0 C517.8,253.4 512.0,256.5 513.8,257.9 C515.6,259.3 526.4,258.9 530.7,259.4 C535.0,259.9 537.6,260.3 539.8,260.9 C542.0,261.5 544.5,262.4 544.0,263.0 C543.5,263.6 539.8,264.1 536.8,264.8 C533.8,265.5 529.4,266.1 526.1,267.1 C522.8,268.1 519.2,265.4 516.9,270.9 C514.6,276.4 511.8,293.6 512.3,300.0 C512.8,306.4 519.9,306.1 519.9,309.1 C519.9,312.2 515.6,315.0 512.3,318.3 C509.0,321.6 504.4,325.8 500.1,329.0 C495.8,332.2 490.6,335.1 486.3,337.4 C482.0,339.7 478.2,341.6 474.1,342.8 C470.0,344.0 464.6,346.1 461.8,344.3Z" fill="#0349dc"/>
 <path d="M470,300 L500,300 L512,318 L495,332 L475,338 L462,330 Z" fill="#3a72e0" opacity="0.45" filter="url(#b2)"/>
</g>
<path d="M484.8,266.3 C484.7,265.5 488.1,265.2 489.4,263.2 C490.7,261.2 490.9,257.4 492.4,254.1 C493.9,250.8 496.3,246.5 498.5,243.4 C500.7,240.3 503.6,237.5 505.4,235.7 C507.2,233.9 508.9,231.9 509.4,232.4 C509.9,232.9 508.0,236.7 508.5,238.8 C509.0,240.9 510.4,244.0 512.3,244.9 C514.2,245.8 517.5,244.4 519.9,244.1 C522.3,243.8 526.5,242.0 526.5,243.2 C526.5,244.3 522.0,248.6 519.9,251.0 C517.8,253.4 517.1,256.1 513.8,257.9 C510.5,259.7 504.0,260.3 500.0,262.0 C496.0,263.7 492.5,267.3 490.0,268.0 C487.5,268.7 484.9,267.1 484.8,266.3Z" fill="#0349dc"/>
<path d="M513.8,257.9 C513.0,256.6 517.7,253.2 520.0,251.0 C522.3,248.8 524.8,246.3 527.6,244.9 C530.4,243.5 533.7,242.5 536.8,242.6 C539.9,242.7 543.5,244.2 546.0,245.6 C548.5,247.0 550.5,249.2 552.0,251.0 C553.5,252.8 556.0,255.1 555.0,256.4 C554.0,257.7 549.0,258.5 546.0,259.0 C543.0,259.5 540.3,259.5 536.8,259.4 C533.3,259.3 528.8,258.8 525.0,258.5 C521.2,258.2 514.6,259.1 513.8,257.9Z" fill="#fff000"/>
<path d="M482.5,284.7 C482.0,282.7 484.1,282.2 486.3,280.1 C488.5,278.1 492.2,274.7 495.5,272.4 C498.8,270.1 503.4,266.8 506.2,266.3 C509.0,265.8 510.3,268.6 512.3,269.4 C514.3,270.2 515.3,270.6 518.4,270.9 C521.5,271.1 527.6,270.1 530.7,270.9 C533.8,271.7 535.5,272.9 536.8,275.5 C538.1,278.1 538.6,282.4 538.3,286.2 C538.0,290.0 536.2,294.3 535.2,298.4 C534.2,302.5 533.5,308.1 532.2,310.7 C530.9,313.2 529.7,314.0 527.6,313.7 C525.5,313.4 522.7,310.6 519.9,309.1 C517.1,307.6 513.9,306.0 510.8,304.5 C507.8,303.0 505.2,302.0 501.6,300.0 C498.0,298.0 492.6,294.9 489.4,292.3 C486.2,289.8 483.0,286.7 482.5,284.7Z" fill="#f4a600"/>
<path d="M512,276 L530,276 L534,290 L528,304 L515,298 L506,288 Z" fill="#f8d830" opacity="0.8" filter="url(#b2)"/>
<!-- blue bits right of dome -->
<path d="M545,259 L556,258 L566,260 L572,264 L560,263 Z" fill="#2a5cc8" opacity="0.8"/>
<path d="M570.4,259 L576.5,259.8 L580.6,271 L575.7,269 Z" fill="#2458d0"/>
<path d="M566,262 L570,262 L575,270 L571,269 Z" fill="#2458d0" opacity="0.6"/>
<ellipse cx="578.8" cy="246.2" rx="1.4" ry="2.6" fill="#2a8aa0" opacity="0.85"/>
<path d="M520,243.5 L532,240 L538,238.5 L528,244 Z" fill="#9fe0e8" opacity="0.7"/>
</g>
<!-- HEART C -->
<clipPath id="cc"><path d="M77.2,730.0 C75.7,726.8 73.5,722.5 71.8,718.2 C70.1,713.9 68.3,709.0 67.2,704.4 C66.1,699.8 65.3,695.0 64.9,690.7 C64.5,686.4 64.4,682.5 64.9,678.4 C65.4,674.3 66.3,670.0 68.0,666.2 C69.7,662.4 72.2,658.6 74.9,655.5 C77.6,652.4 80.5,650.0 84.1,647.8 C87.7,645.6 92.2,643.9 96.3,642.5 C100.4,641.1 104.9,640.3 108.5,639.4 C112.1,638.5 115.4,638.5 117.7,637.1 C120.0,635.7 120.5,633.3 122.3,631.0 C124.1,628.7 126.4,625.6 128.4,623.4 C130.4,621.2 132.6,619.5 134.5,618.0 C136.4,616.5 139.1,614.3 139.9,614.7 C140.7,615.1 138.2,619.1 139.4,620.3 C140.6,621.5 143.5,621.5 146.8,621.8 C150.1,622.0 155.4,621.2 159.0,621.8 C162.6,622.4 165.1,623.8 168.2,625.6 C171.3,627.4 174.7,630.6 177.4,632.5 C180.1,634.4 181.3,635.3 184.2,637.1 C187.1,638.9 191.3,641.7 194.9,643.2 C198.5,644.7 201.3,645.8 205.6,646.0 C209.9,646.2 215.8,644.6 220.9,644.5 C226.0,644.4 231.1,644.7 236.2,645.1 C241.3,645.5 246.9,646.1 251.5,647.1 C256.1,648.1 259.9,649.1 263.7,650.9 C267.5,652.7 271.1,655.0 274.4,657.8 C277.7,660.6 280.8,664.0 283.6,667.7 C286.4,671.4 289.2,676.2 291.2,680.0 C293.2,683.8 294.4,687.1 295.8,690.7 C297.2,694.3 298.9,697.3 299.7,701.4 C300.5,705.5 300.4,710.3 300.4,715.1 C300.4,719.9 300.2,726.3 299.7,730.0 C299.2,733.7 298.3,733.7 297.4,737.2 C296.5,740.7 295.6,746.4 294.3,751.0 C293.0,755.6 291.5,760.2 289.7,764.8 C287.9,769.4 285.9,774.2 283.6,778.5 C281.3,782.8 279.1,786.7 276.0,790.8 C272.9,794.9 269.0,798.9 265.2,803.0 C261.4,807.1 257.3,811.1 253.0,815.2 C248.7,819.3 244.0,823.8 239.2,827.5 C234.3,831.2 229.0,835.0 223.9,837.4 C218.8,839.8 213.8,841.0 208.7,842.0 C203.6,843.0 198.2,843.5 193.4,843.5 C188.6,843.5 183.8,842.5 179.6,842.0 C175.4,841.5 172.6,841.3 168.2,840.5 C163.8,839.7 157.5,838.8 152.9,837.4 C148.3,836.0 144.8,834.5 140.7,832.1 C136.6,829.7 132.2,826.5 128.4,822.9 C124.6,819.3 121.0,815.0 117.7,810.7 C114.4,806.4 111.3,801.8 108.5,796.9 C105.7,792.0 103.3,786.7 100.9,781.6 C98.5,776.5 96.2,771.4 94.0,766.3 C91.8,761.2 90.1,755.9 87.9,751.0 C85.7,746.1 82.6,740.7 80.8,737.2 C79.0,733.7 78.7,733.2 77.2,730.0Z"/></clipPath>
<linearGradient id="gc" x1="0.1" y1="0" x2="0.6" y2="1">
<stop offset="0" stop-color="#ecd000"/><stop offset="0.3" stop-color="#f0e600"/><stop offset="0.5" stop-color="#e4ea00"/><stop offset="0.68" stop-color="#d2e800"/><stop offset="0.85" stop-color="#b8ec00"/><stop offset="1" stop-color="#84f000"/>
</linearGradient>
<g filter="url(#bl)">
<path d="M77.2,730.0 C75.7,726.8 73.5,722.5 71.8,718.2 C70.1,713.9 68.3,709.0 67.2,704.4 C66.1,699.8 65.3,695.0 64.9,690.7 C64.5,686.4 64.4,682.5 64.9,678.4 C65.4,674.3 66.3,670.0 68.0,666.2 C69.7,662.4 72.2,658.6 74.9,655.5 C77.6,652.4 80.5,650.0 84.1,647.8 C87.7,645.6 92.2,643.9 96.3,642.5 C100.4,641.1 104.9,640.3 108.5,639.4 C112.1,638.5 115.4,638.5 117.7,637.1 C120.0,635.7 120.5,633.3 122.3,631.0 C124.1,628.7 126.4,625.6 128.4,623.4 C130.4,621.2 132.6,619.5 134.5,618.0 C136.4,616.5 139.1,614.3 139.9,614.7 C140.7,615.1 138.2,619.1 139.4,620.3 C140.6,621.5 143.5,621.5 146.8,621.8 C150.1,622.0 155.4,621.2 159.0,621.8 C162.6,622.4 165.1,623.8 168.2,625.6 C171.3,627.4 174.7,630.6 177.4,632.5 C180.1,634.4 181.3,635.3 184.2,637.1 C187.1,638.9 191.3,641.7 194.9,643.2 C198.5,644.7 201.3,645.8 205.6,646.0 C209.9,646.2 215.8,644.6 220.9,644.5 C226.0,644.4 231.1,644.7 236.2,645.1 C241.3,645.5 246.9,646.1 251.5,647.1 C256.1,648.1 259.9,649.1 263.7,650.9 C267.5,652.7 271.1,655.0 274.4,657.8 C277.7,660.6 280.8,664.0 283.6,667.7 C286.4,671.4 289.2,676.2 291.2,680.0 C293.2,683.8 294.4,687.1 295.8,690.7 C297.2,694.3 298.9,697.3 299.7,701.4 C300.5,705.5 300.4,710.3 300.4,715.1 C300.4,719.9 300.2,726.3 299.7,730.0 C299.2,733.7 298.3,733.7 297.4,737.2 C296.5,740.7 295.6,746.4 294.3,751.0 C293.0,755.6 291.5,760.2 289.7,764.8 C287.9,769.4 285.9,774.2 283.6,778.5 C281.3,782.8 279.1,786.7 276.0,790.8 C272.9,794.9 269.0,798.9 265.2,803.0 C261.4,807.1 257.3,811.1 253.0,815.2 C248.7,819.3 244.0,823.8 239.2,827.5 C234.3,831.2 229.0,835.0 223.9,837.4 C218.8,839.8 213.8,841.0 208.7,842.0 C203.6,843.0 198.2,843.5 193.4,843.5 C188.6,843.5 183.8,842.5 179.6,842.0 C175.4,841.5 172.6,841.3 168.2,840.5 C163.8,839.7 157.5,838.8 152.9,837.4 C148.3,836.0 144.8,834.5 140.7,832.1 C136.6,829.7 132.2,826.5 128.4,822.9 C124.6,819.3 121.0,815.0 117.7,810.7 C114.4,806.4 111.3,801.8 108.5,796.9 C105.7,792.0 103.3,786.7 100.9,781.6 C98.5,776.5 96.2,771.4 94.0,766.3 C91.8,761.2 90.1,755.9 87.9,751.0 C85.7,746.1 82.6,740.7 80.8,737.2 C79.0,733.7 78.7,733.2 77.2,730.0Z" fill="url(#gc)"/>
<g clip-path="url(#cc)">
 <ellipse cx="84" cy="660" rx="22" ry="16" fill="#eeaa00" opacity="0.8" filter="url(#b4)"/>
 <ellipse cx="100" cy="690" rx="34" ry="30" fill="#e4c400" opacity="0.6" filter="url(#b8)"/>
 <ellipse cx="225" cy="835" rx="36" ry="20" fill="#48f200" opacity="0.9" filter="url(#b8)"/>
 <ellipse cx="262" cy="800" rx="22" ry="30" fill="#98f000" opacity="0.7" filter="url(#b8)"/>
 <ellipse cx="245" cy="690" rx="55" ry="50" fill="#dcdc00" opacity="0.5" filter="url(#b8)"/>
 <ellipse cx="220" cy="672" rx="40" ry="14" fill="#e4cc00" opacity="0.5" filter="url(#b4)"/>
 <ellipse cx="120" cy="770" rx="30" ry="40" fill="#fcf800" opacity="0.6" filter="url(#b8)"/>
 <g fill="none" stroke="#fbf818" stroke-width="3.2" opacity="0.5" filter="url(#bl)">
 <path d="M60,668.0 C100,658.0 150,638.0 192,616.0"/>
<path d="M60,676.6 C100,666.6 150,647.1 192,625.6"/>
<path d="M60,685.2 C100,675.2 150,656.2 192,635.2"/>
<path d="M60,693.8 C100,683.8 150,665.3 192,644.8"/>
<path d="M60,702.4 C100,692.4 150,674.4 192,654.4"/>
<path d="M60,711.0 C100,701.0 150,683.5 192,664.0"/>
<path d="M60,719.6 C100,709.6 150,692.6 192,673.6"/>
<path d="M60,728.2 C100,718.2 150,701.7 192,683.2"/>
<path d="M60,736.8 C100,726.8 150,710.8 192,692.8"/>
<path d="M60,745.4 C100,735.4 150,719.9 192,702.4"/>
<path d="M60,754.0 C100,744.0 150,729.0 192,712.0"/>
<path d="M60,762.6 C100,752.6 150,738.1 192,721.6"/>
<path d="M60,771.2 C100,761.2 150,747.2 192,731.2"/>
<path d="M60,779.8 C100,769.8 150,756.3 192,740.8"/>
<path d="M60,788.4 C100,778.4 150,765.4 192,750.4"/>
<path d="M60,797.0 C100,787.0 150,774.5 192,760.0"/>
<path d="M60,805.6 C100,795.6 150,783.6 192,769.6"/>
<path d="M60,814.2 C100,804.2 150,792.7 192,779.2"/>
<path d="M60,822.8 C100,812.8 150,801.8 192,788.8"/>
<path d="M60,831.4 C100,821.4 150,810.9 192,798.4"/>
 </g>
 <g fill="none" stroke="#ffff30" stroke-width="1.7" opacity="0.7" filter="url(#bl)">
 <ellipse cx="226" cy="668" rx="24" ry="8" transform="rotate(-6 226 668)"/>
 <ellipse cx="228" cy="671" rx="42" ry="17" transform="rotate(-6 228 671)"/>
 <path d="M192,668 C200,690 250,690 292,664"/>
 </g>
 <g fill="none" stroke="#f0fb20" stroke-width="1.8" opacity="0.6" filter="url(#bl)">
 <path d="M190,676.0 C205,684.0 250,678.0 305,640.0"/>
<path d="M190,686.2 C205,694.2 250,688.2 305,650.2"/>
<path d="M190,696.4 C205,704.4 250,698.4 305,660.4"/>
<path d="M190,706.6 C205,714.6 250,708.6 305,670.6"/>
<path d="M190,716.8 C205,724.8 250,718.8 305,680.8"/>
<path d="M190,727.0 C205,735.0 250,729.0 305,691.0"/>
<path d="M190,737.2 C205,745.2 250,739.2 305,701.2"/>
<path d="M190,747.4 C205,755.4 250,749.4 305,711.4"/>
<path d="M190,757.6 C205,765.6 250,759.6 305,721.6"/>
<path d="M190,767.8 C205,775.8 250,769.8 305,731.8"/>
<path d="M190,778.0 C205,786.0 250,780.0 305,742.0"/>
<path d="M190,788.2 C205,796.2 250,790.2 305,752.2"/>
<path d="M190,798.4 C205,806.4 250,800.4 305,762.4"/>
<path d="M190,808.6 C205,816.6 250,810.6 305,772.6"/>
<path d="M190,818.8 C205,826.8 250,820.8 305,782.8"/>
<path d="M190,829.0 C205,837.0 250,831.0 305,793.0"/>
<path d="M190,839.2 C205,847.2 250,841.2 305,803.2"/>
 </g>
 <path d="M190,690 C196,730 197,790 190,842" fill="none" stroke="#f8fa30" stroke-width="2" opacity="0.25" filter="url(#bl)"/>
 <!-- bright flap -->
 <path d="M119,672 L129,662 L135,650 L147,655 L160,664 L156,679 L150,685 L128,684 Z" fill="#ffff28" filter="url(#b1)"/>
 <!-- darker patch above flap -->
 <path d="M122,640 L140,626 L158,632 L160,648 L146,652 L128,656 Z" fill="#e4c800" opacity="0.8" filter="url(#b2)"/>
 <path d="M160,650 L176,640 L192,650 L190,690 L168,690 Z" fill="#dce000" opacity="0.6" filter="url(#b2)"/>
</g>
<path d="M188,641 L192,639.5 L198.5,646 L199,652.5 L194,650 Z" fill="#2c68d0"/>
<path d="M181,646 L186,645.5 L193,652 L188,651 Z" fill="#5a80c0" opacity="0.8"/>
<ellipse cx="200.7" cy="628.6" rx="1.5" ry="2.4" fill="#2a90b8" opacity="0.9"/>
<path d="M196,640 L201,632 L202,640 Z" fill="#c8f4f4" opacity="0.7"/>
</g>
<!-- HEART D -->
<clipPath id="cd"><path d="M466.4,725.0 C465.1,722.4 462.1,715.1 460.3,710.1 C458.5,705.1 456.7,699.6 455.7,694.8 C454.7,690.0 453.9,685.7 454.2,681.1 C454.4,676.5 455.4,671.4 457.2,667.3 C459.0,663.2 461.8,659.9 464.9,656.6 C468.0,653.3 471.5,650.0 475.6,647.4 C479.7,644.8 484.8,642.9 489.4,641.3 C494.0,639.6 499.0,638.6 503.1,637.5 C507.2,636.4 511.0,636.1 513.8,634.4 C516.6,632.7 517.6,630.2 519.9,627.5 C522.2,624.8 525.0,620.9 527.6,618.4 C530.2,615.9 533.0,613.6 535.2,612.2 C537.4,610.8 539.9,609.3 540.6,610.1 C541.3,610.9 538.1,615.2 539.5,616.8 C540.9,618.4 545.9,619.3 549.0,619.9 C552.1,620.5 555.1,619.5 558.2,620.5 C561.3,621.5 565.0,623.9 567.4,626.0 C569.8,628.1 569.9,631.2 572.6,632.9 C575.3,634.6 579.1,634.9 583.4,636.0 C587.7,637.1 593.5,639.0 598.6,639.8 C603.7,640.5 608.8,640.3 613.9,640.5 C619.0,640.7 624.6,640.6 629.2,641.0 C633.8,641.4 637.7,641.7 641.5,642.8 C645.3,643.9 648.9,645.1 652.2,647.4 C655.5,649.7 658.6,653.3 661.4,656.6 C664.2,659.9 666.7,663.7 669.0,667.3 C671.3,670.9 673.3,674.7 675.1,678.0 C676.9,681.3 678.4,683.9 679.7,687.2 C681.0,690.5 682.0,694.1 682.8,697.9 C683.6,701.7 684.2,705.6 684.3,710.1 C684.4,714.6 684.5,719.9 683.5,725.0 C682.5,730.1 679.9,736.3 678.2,741.0 C676.6,745.7 675.4,748.9 673.6,753.2 C671.8,757.5 669.8,762.4 667.5,767.0 C665.2,771.6 662.9,776.2 659.8,780.8 C656.7,785.4 652.9,790.2 649.1,794.5 C645.3,798.8 641.2,802.7 636.9,806.8 C632.6,810.9 627.7,815.7 623.1,819.0 C618.5,822.3 614.0,824.8 609.4,826.7 C604.8,828.6 600.5,829.8 595.6,830.5 C590.8,831.2 584.4,831.4 580.3,831.2 C576.2,831.0 574.5,829.7 571.1,829.2 C567.7,828.7 564.2,828.8 559.7,828.2 C555.2,827.7 549.2,827.4 544.4,825.9 C539.6,824.4 535.0,821.7 530.7,819.0 C526.4,816.3 522.2,813.4 518.4,809.8 C514.6,806.2 511.0,801.9 507.7,797.6 C504.4,793.3 501.3,788.4 498.5,783.8 C495.7,779.2 493.4,774.9 490.9,770.1 C488.3,765.3 485.8,759.9 483.2,754.8 C480.6,749.7 478.2,744.4 475.6,739.5 C473.1,734.6 469.4,728.1 467.9,725.7 C466.4,723.3 467.7,727.6 466.4,725.0Z"/></clipPath>
<g filter="url(#bl)">
<path d="M466.4,725.0 C465.1,722.4 462.1,715.1 460.3,710.1 C458.5,705.1 456.7,699.6 455.7,694.8 C454.7,690.0 453.9,685.7 454.2,681.1 C454.4,676.5 455.4,671.4 457.2,667.3 C459.0,663.2 461.8,659.9 464.9,656.6 C468.0,653.3 471.5,650.0 475.6,647.4 C479.7,644.8 484.8,642.9 489.4,641.3 C494.0,639.6 499.0,638.6 503.1,637.5 C507.2,636.4 511.0,636.1 513.8,634.4 C516.6,632.7 517.6,630.2 519.9,627.5 C522.2,624.8 525.0,620.9 527.6,618.4 C530.2,615.9 533.0,613.6 535.2,612.2 C537.4,610.8 539.9,609.3 540.6,610.1 C541.3,610.9 538.1,615.2 539.5,616.8 C540.9,618.4 545.9,619.3 549.0,619.9 C552.1,620.5 555.1,619.5 558.2,620.5 C561.3,621.5 565.0,623.9 567.4,626.0 C569.8,628.1 569.9,631.2 572.6,632.9 C575.3,634.6 579.1,634.9 583.4,636.0 C587.7,637.1 593.5,639.0 598.6,639.8 C603.7,640.5 608.8,640.3 613.9,640.5 C619.0,640.7 624.6,640.6 629.2,641.0 C633.8,641.4 637.7,641.7 641.5,642.8 C645.3,643.9 648.9,645.1 652.2,647.4 C655.5,649.7 658.6,653.3 661.4,656.6 C664.2,659.9 666.7,663.7 669.0,667.3 C671.3,670.9 673.3,674.7 675.1,678.0 C676.9,681.3 678.4,683.9 679.7,687.2 C681.0,690.5 682.0,694.1 682.8,697.9 C683.6,701.7 684.2,705.6 684.3,710.1 C684.4,714.6 684.5,719.9 683.5,725.0 C682.5,730.1 679.9,736.3 678.2,741.0 C676.6,745.7 675.4,748.9 673.6,753.2 C671.8,757.5 669.8,762.4 667.5,767.0 C665.2,771.6 662.9,776.2 659.8,780.8 C656.7,785.4 652.9,790.2 649.1,794.5 C645.3,798.8 641.2,802.7 636.9,806.8 C632.6,810.9 627.7,815.7 623.1,819.0 C618.5,822.3 614.0,824.8 609.4,826.7 C604.8,828.6 600.5,829.8 595.6,830.5 C590.8,831.2 584.4,831.4 580.3,831.2 C576.2,831.0 574.5,829.7 571.1,829.2 C567.7,828.7 564.2,828.8 559.7,828.2 C555.2,827.7 549.2,827.4 544.4,825.9 C539.6,824.4 535.0,821.7 530.7,819.0 C526.4,816.3 522.2,813.4 518.4,809.8 C514.6,806.2 511.0,801.9 507.7,797.6 C504.4,793.3 501.3,788.4 498.5,783.8 C495.7,779.2 493.4,774.9 490.9,770.1 C488.3,765.3 485.8,759.9 483.2,754.8 C480.6,749.7 478.2,744.4 475.6,739.5 C473.1,734.6 469.4,728.1 467.9,725.7 C466.4,723.3 467.7,727.6 466.4,725.0Z" fill="#024cde"/>
<g clip-path="url(#cd)">
 <!-- light blue wide halo -->
 <path d="M548,628 C530,640 512,652 497,668 C486,684 480,704 470,730" fill="none" stroke="#1488f2" stroke-width="34" stroke-linecap="round" opacity="0.9" filter="url(#b4)"/>
 <!-- cyan band -->
 <path d="M546,631 C530,639 513,651 497,667 C488,683 482,703 471,726" fill="none" stroke="#10f2e6" stroke-width="15" stroke-linecap="round" filter="url(#b2)"/>
 <path d="M512,636 L526,618 L542,604 L546,621 L562,623 L556,636 L538,642 Z" fill="#18eccc" filter="url(#b1)"/>
 <!-- green -->
 <path d="M440,650 L470,640 L500,632 L524,629 L530,636 L508,646 L494,657 L486,673 L480,690 L470,704 L440,714 Z" fill="#3cf230" filter="url(#b4)"/>
 <path d="M440,650 L470,640 L500,631 L520,630 L524,636 L504,644 L491,655 L483,672 L477,688 L466,700 L440,712 Z" fill="#1cf000" filter="url(#b2)"/>
 <path d="M440,650 L470,640 L500,630 L508,640 L488,652 L480,670 L474,686 L462,696 L440,696 Z" fill="#22f200" filter="url(#b1)"/>
 <path d="M476,640 L500,632 L520,630 L524,634 L500,642 L482,650 Z" fill="#5cf400" opacity="0.7" filter="url(#b1)"/>
 <!-- blue flap -->
 <path d="M497,676.5 L506.2,667.3 L524.5,656.6 L542.9,652 L549,656.6 L547.5,668.8 L542.9,682.6 L530.7,687.2 L513.8,685.7 L503.1,681.1 Z" fill="#1c64e6" filter="url(#b1)"/>
 <path d="M530,658 L546,655 L548,668 L543,680 L534,682 L536,668 Z" fill="#5a9aec" opacity="0.75" filter="url(#b2)"/>
 <path d="M508,668 L524,659 L536,657 L530,668 L515,676 Z" fill="#3a86ec" opacity="0.6" filter="url(#b2)"/>
 <!-- body lighter arcs -->
 <path d="M575,682 C600,680 625,668 640,652" fill="none" stroke="#1a6cec" stroke-width="6" opacity="0.6" filter="url(#b2)"/>
 <path d="M484,742 C500,728 522,712 540,694" fill="none" stroke="#1c7cf0" stroke-width="7" opacity="0.55" filter="url(#b2)"/>
 <path d="M553,640 C575,644 600,646 630,646" fill="none" stroke="#0846c8" stroke-width="5" opacity="0.35" filter="url(#b2)"/>
 <path d="M534,797 L540,806 L543,822 L538,818 Z" fill="#4a8cf0" opacity="0.75" filter="url(#b1)"/>
</g>
<!-- dust -->
<path d="M543,618 L556,614 L566,617 L576,625 L583,634 L570,631 L556,626 Z" fill="#2f9ce4" opacity="0.75" filter="url(#b1)"/>
<path d="M545,616 L560,613 L570,619 L560,621 Z" fill="#4fd8d8" opacity="0.7" filter="url(#bl)"/>
<ellipse cx="587.9" cy="627.2" rx="1.8" ry="2.2" fill="#2aa8a0" opacity="0.85"/>
</g>
</svg>
<div class="cap"><b>Figure 4</b> The excitation propagation of the ventricle during the excitation cycle by implementing the electrophysiological<br>model. <b>a</b> 100 ms; <b>b</b> 200 ms; <b>c</b> 300 ms; <b>d</b> 500 ms</div>
<div class="ft" style="left:59.2px">This journal is</div>
<svg style="position:absolute;left:121px;top:1051.5px" width="13" height="13" viewBox="0 0 13 13"><circle cx="6.3" cy="6.6" r="4.9" fill="none" stroke="#111" stroke-width="0.7"/><text x="6.3" y="9.1" text-anchor="middle" font-family="Liberation Sans, sans-serif" font-size="7.2" fill="#111">c</text></svg>
<div class="ft" style="left:135.6px">The Royal Society of Chemistry [year]</div>
<div class="ft" style="left:618.8px">Journal Name, [year], [vol.]</div>
<div class="ft" style="left:754px">1–12</div>
<div class="ft" style="left:780px">|</div>
<div class="ft" style="left:785.4px">7</div>
</body></html>
